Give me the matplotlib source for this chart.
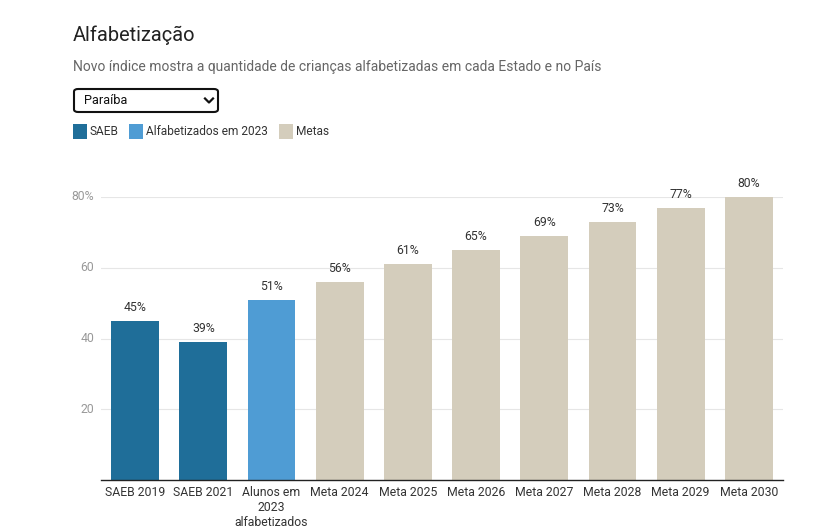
import matplotlib.pyplot as plt
from matplotlib.patches import FancyBboxPatch, Rectangle

plt.rcParams['font.family'] = ['Roboto', 'DejaVu Sans']

categories = ['SAEB 2019', 'SAEB 2021', 'Alunos em\n2023\nalfabetizados',
              'Meta 2024', 'Meta 2025', 'Meta 2026', 'Meta 2027',
              'Meta 2028', 'Meta 2029', 'Meta 2030']
values = [45, 39, 51, 56, 61, 65, 69, 73, 77, 80]
groups = ['SAEB', 'SAEB', 'Alfabetizados em 2023', 'Metas', 'Metas', 'Metas',
          'Metas', 'Metas', 'Metas', 'Metas']
colors = {'SAEB': '#1f6e99', 'Alfabetizados em 2023': '#4f9cd4', 'Metas': '#d4cdbc'}
yticks = [20, 40, 60, 80]
ytick_labels = ['20', '40', '60', '80%']

fig = plt.figure(figsize=(8.24, 5.29), dpi=100)
ax = fig.add_axes([0.1226, 0.0926, 0.8276, 0.535])

x = range(len(categories))
bars = ax.bar(x, values, width=0.70, color=[colors[g] for g in groups], zorder=2)
for b, v in zip(bars, values):
    ax.text(b.get_x() + b.get_width() / 2, v + 1.9, f'{v}%', ha='center', va='bottom',
            fontsize=8.8, color='#333333')

ax.set_xlim(-0.5, 9.5)
ax.set_ylim(0, 80)
ax.set_yticks(yticks)
ax.set_yticklabels(ytick_labels)
ax.set_xticks(list(x))
ax.set_xticklabels(categories, fontsize=8.8, color='#333333', linespacing=1.2)
ax.tick_params(axis='y', length=0, labelsize=8.8, labelcolor='#999999', pad=5)
ax.tick_params(axis='x', length=0, pad=4)
ax.grid(axis='y', color='#e6e6e6', linewidth=0.8, zorder=0)
for s in ['top', 'right', 'left']:
    ax.spines[s].set_visible(False)
ax.spines['bottom'].set_color('#222222')
ax.spines['bottom'].set_linewidth(1)
for lbl in ax.get_yticklabels():
    lbl.set_verticalalignment('center')

# header
fig.text(73 / 824, 1 - 35 / 529, 'Alfabetização', fontsize=14.4, color='#222222', va='center')
fig.text(73 / 824, 1 - 67 / 529,
         'Novo índice mostra a quantidade de crianças alfabetizadas em cada Estado e no País',
         fontsize=10, color='#666666', va='center')

# dropdown
W, H = 824, 529
box = FancyBboxPatch((74 / W, 1 - 112 / H), 144 / W, 23 / H,
                     boxstyle='round,pad=0,rounding_size=0.005',
                     transform=fig.transFigure, facecolor='white',
                     edgecolor='#111111', linewidth=1.5)
fig.patches.append(box)
fig.text(84 / W, 1 - 100.5 / H, 'Paraíba', fontsize=9.2, color='#111111', va='center')
fig.lines.append(plt.Line2D([205 / W, 209 / W, 213 / W],
                            [1 - 98.5 / H, 1 - 102.5 / H, 1 - 98.5 / H],
                            transform=fig.transFigure, color='#111111', linewidth=1.6))

# legend
leg_items = [('SAEB', 73), ('Alfabetizados em 2023', 129), ('Metas', 279)]
for name, px in leg_items:
    fig.patches.append(Rectangle((px / W, 1 - 139 / H), 14 / W, 15 / H,
                                 transform=fig.transFigure, facecolor=colors[name],
                                 edgecolor='none'))
    fig.text((px + 17) / W, 1 - 131.5 / H, name, fontsize=8.6, color='#333333', va='center')

fig.savefig('out.png', dpi=100)
